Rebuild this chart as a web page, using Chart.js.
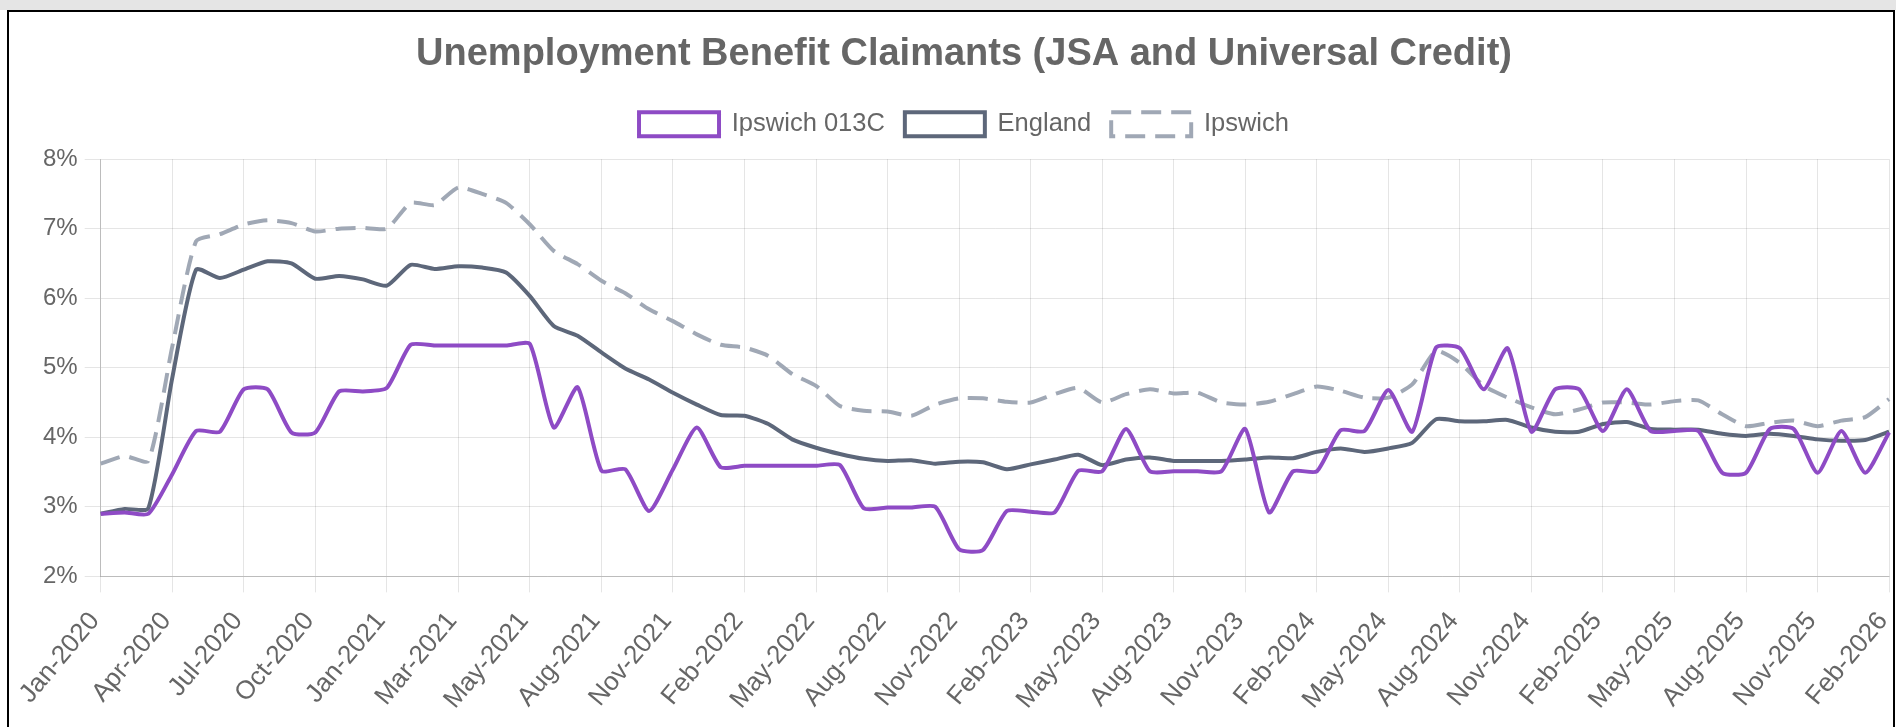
<!DOCTYPE html>
<html><head><meta charset="utf-8">
<script src="https://cdn.jsdelivr.net/npm/chart.js@4/dist/chart.umd.min.js"></script>
<style>
html,body{margin:0;padding:0;width:1896px;height:727px;overflow:hidden;background:#fff;}
#band{position:absolute;left:0;top:0;width:1896px;height:10px;background:#e5e5e5;}
#frame{position:absolute;left:7px;top:10px;width:1888px;height:760px;border:2px solid #000;box-sizing:border-box;}
#wrap{position:absolute;left:1px;top:12px;}
canvas{display:block;}
</style></head><body>
<div id="band"></div><div id="frame"></div>
<div id="wrap"><canvas id="c" width="1926" height="725" style="width:1926px;height:725px"></canvas></div>
<script>
const labels = [
 "Jan-2020","Feb-2020","Mar-2020","Apr-2020","May-2020","Jun-2020","Jul-2020","Aug-2020","Sep-2020","Oct-2020","Nov-2020","Dec-2020",
 "Jan-2021","Feb-2021","Feb-2021","Mar-2021","Apr-2021","Apr-2021","May-2021","Jun-2021","Jul-2021","Aug-2021","Sep-2021","Oct-2021",
 "Nov-2021","Dec-2021","Jan-2022","Feb-2022","Mar-2022","Apr-2022","May-2022","Jun-2022","Jul-2022","Aug-2022","Sep-2022","Oct-2022",
 "Nov-2022","Dec-2022","Jan-2023","Feb-2023","Mar-2023","Apr-2023","May-2023","Jun-2023","Jul-2023","Aug-2023","Sep-2023","Oct-2023",
 "Nov-2023","Dec-2023","Jan-2024","Feb-2024","Mar-2024","Apr-2024","May-2024","Jun-2024","Jul-2024","Aug-2024","Sep-2024","Oct-2024",
 "Nov-2024","Dec-2024","Jan-2025","Feb-2025","Mar-2025","Apr-2025","May-2025","Jun-2025","Jul-2025","Aug-2025","Sep-2025","Oct-2025",
 "Nov-2025","Dec-2025","Jan-2026","Feb-2026"
];
const ipswich013C = [
 2.90,2.92,2.90,3.47,4.09,4.08,4.69,4.69,4.07,4.07,4.66,4.66,
 4.71,5.33,5.32,5.32,5.32,5.32,5.34,4.14,4.72,3.52,3.54,2.94,
 3.54,4.14,3.57,3.59,3.59,3.59,3.59,3.60,2.98,2.99,2.99,3.00,
 2.39,2.38,2.94,2.93,2.92,3.52,3.51,4.12,3.51,3.51,3.51,3.51,
 4.12,2.92,3.51,3.51,4.10,4.09,4.68,4.08,5.29,5.28,4.69,5.28,
 4.08,4.69,4.69,4.09,4.69,4.09,4.09,4.09,3.49,3.49,4.12,4.12,
 3.49,4.09,3.49,4.07
];
const england = [
 2.90,2.97,2.98,4.85,6.41,6.29,6.41,6.53,6.50,6.28,6.32,6.27,
 6.18,6.48,6.42,6.46,6.44,6.37,6.03,5.60,5.46,5.22,4.99,4.83,
 4.64,4.47,4.32,4.31,4.19,3.97,3.85,3.76,3.69,3.66,3.67,3.62,
 3.65,3.64,3.54,3.61,3.68,3.75,3.60,3.68,3.71,3.66,3.66,3.66,
 3.68,3.71,3.70,3.79,3.84,3.79,3.84,3.92,4.26,4.23,4.23,4.25,
 4.14,4.08,4.08,4.19,4.22,4.12,4.11,4.11,4.05,4.02,4.05,4.02,
 3.97,3.95,3.96,4.08
];
const ipswich = [
 3.62,3.73,3.66,5.30,6.82,6.92,7.06,7.12,7.08,6.96,7.00,7.01,
 7.00,7.37,7.34,7.59,7.50,7.37,7.06,6.68,6.49,6.25,6.07,5.84,
 5.67,5.48,5.33,5.29,5.17,4.91,4.74,4.45,4.38,4.37,4.31,4.47,
 4.56,4.56,4.51,4.50,4.62,4.71,4.50,4.62,4.69,4.63,4.64,4.50,
 4.47,4.51,4.62,4.73,4.67,4.57,4.57,4.76,5.24,5.07,4.74,4.57,
 4.43,4.33,4.40,4.50,4.50,4.47,4.52,4.53,4.33,4.16,4.21,4.24,
 4.16,4.24,4.29,4.55
];
const yMin = 2, yMax = 8, yStep = 1;

Chart.defaults.font.family = "'Liberation Sans', Arial, Helvetica, sans-serif";
Chart.defaults.color = '#666';

const legendGap = {
  id:'legendGap',
  beforeLayout(chart){
    const l = chart.legend;
    if (l && !l._gapPatched) {
      const fit = l.fit;
      l.fit = function(){ fit.call(this); this.height += 12; };
      l._gapPatched = true;
    }
  }
};

const common = {backgroundColor:'rgba(255,255,255,0)', borderWidth:4, pointRadius:0, pointHoverRadius:0, tension:0.2, fill:false};
new Chart(document.getElementById('c'), {
  type:'line',
  data:{labels:labels, datasets:[
    Object.assign({label:'Ipswich 013C', data:ipswich013C, borderColor:'#8e4bc5'}, common),
    Object.assign({label:'England', data:england, borderColor:'#5d677a'}, common),
    Object.assign({label:'Ipswich', data:ipswich, borderColor:'#a0a8b5', borderDash:[20,10]}, common)
  ]},
  plugins:[legendGap],
  options:{
    responsive:false, animation:false, devicePixelRatio:1,
    layout:{padding:{left:0,right:0,top:0,bottom:8}},
    plugins:{
      title:{display:true, text:'Unemployment Benefit Claimants (JSA and Universal Credit)', color:'#666',
        font:{size:38, weight:'bold'}, padding:{top:20,bottom:14}},
      legend:{labels:{boxWidth:80, boxHeight:24, font:{size:25.5}, padding:20, color:'#666'}},
      tooltip:{enabled:false}
    },
    scales:{
      x:{grid:{color:'rgba(0,0,0,0.1)', tickLength:16}, border:{color:'rgba(0,0,0,0.18)'},
         ticks:{font:{size:26}, color:'#666', maxRotation:50, minRotation:50, autoSkip:true, maxTicksLimit:26, padding:14, labelOffset:-6}},
      y:{min:yMin, max:yMax, grid:{color:'rgba(0,0,0,0.1)', tickLength:16}, border:{color:'rgba(0,0,0,0.18)'},
         afterFit:(s)=>{ s.width += 35; },
         ticks:{stepSize:yStep, font:{size:24}, color:'#666', padding:7, callback:v=>v+'%'}}
    }
  }
});
</script>
</body></html>
